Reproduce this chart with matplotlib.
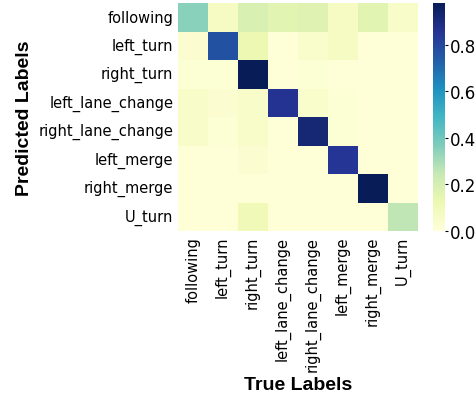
import matplotlib
matplotlib.use('Agg')
import matplotlib.pyplot as plt, numpy as np, seaborn as sns

labels = ['following', 'left_turn', 'right_turn', 'left_lane_change',
          'right_lane_change', 'left_merge', 'right_merge', 'U_turn']

row_following = [0.35, 0.07, 0.19, 0.16, 0.17, 0.07, 0.16, 0.05]
row_left_turn = [0.03, 0.77, 0.12, 0.01, 0.04, 0.07, 0.01, 0.01]
row_right_turn = [0.02, 0.02, 0.98, 0.01, 0.02, 0.01, 0.01, 0.01]
row_left_lane = [0.05, 0.03, 0.05, 0.86, 0.04, 0.02, 0.01, 0.01]
row_right_lane = [0.05, 0.02, 0.05, 0.01, 0.92, 0.02, 0.01, 0.01]
row_left_merge = [0.01, 0.01, 0.03, 0.01, 0.01, 0.85, 0.01, 0.01]
row_right_merge = [0.01, 0.01, 0.01, 0.01, 0.01, 0.01, 0.98, 0.01]
row_u_turn = [0.01, 0.01, 0.10, 0.01, 0.01, 0.01, 0.01, 0.26]

cm = np.array([row_following, row_left_turn, row_right_turn, row_left_lane,
               row_right_lane, row_left_merge, row_right_merge, row_u_turn])

fig = plt.figure(figsize=(4.77, 4.02), dpi=100)
ax = fig.add_axes([178/477, 1-232/402, 240/477, 228/402])
cax = fig.add_axes([433/477, 1-232/402, 12/477, 228/402])

sns.heatmap(cm, cmap='YlGnBu', vmin=0, vmax=0.98, ax=ax, cbar_ax=cax,
            xticklabels=labels, yticklabels=labels)
ax.tick_params(labelsize=10.5, length=0)
plt.setp(ax.get_xticklabels(), rotation=90)
plt.setp(ax.get_yticklabels(), rotation=0)
cax.tick_params(labelsize=12, length=2.5, width=0.8, pad=1)

ax.set_xlabel('True Labels', fontsize=14, fontweight='bold', family='Liberation Sans')
ax.set_ylabel('Predicted Labels', fontsize=14, fontweight='bold', family='Liberation Sans')

fig.savefig('out.png', dpi=100)
